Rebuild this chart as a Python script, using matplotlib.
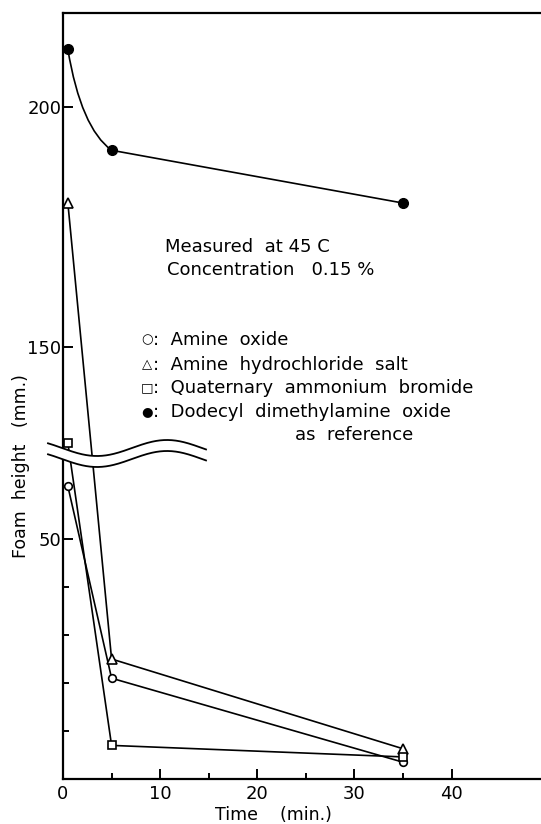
import numpy as np
import matplotlib
matplotlib.use("Agg")
from matplotlib import pyplot as plt
from matplotlib.path import Path
from matplotlib.patches import PathPatch, Polygon

# foam height (mm), upper series sit above the axis break
time = [0.5, 5, 35]
amine_oxide = [61, 21, 3.5]
amine_hcl = [180, 25, 6.3]
quat_bromide = [130, 7, 4.6]
dodecyl = [212, 191, 180]

y_ticks = [50, 150, 200]
y_minor = [10, 20, 30, 40]
x_ticks = [0, 10, 20, 30, 40]
x_minor = [5, 15, 25, 35]

legend_rows = [
    ("\u25CB", "Amine  oxide"),
    ("\u25B3", "Amine  hydrochloride  salt"),
    ("\u25A1", "Quaternary  ammonium  bromide"),
    ("\u25CF", "Dodecyl  dimethylamine  oxide"),
]

W, H = 541, 824
BREAK_AT = 100   # values above this are shifted down
SHIFT = 60


def fwd(y):
    y = np.asarray(y, dtype=float)
    return np.where(y < BREAK_AT, y, y - SHIFT)


def inv(y):
    y = np.asarray(y, dtype=float)
    return np.where(y < BREAK_AT - SHIFT + 30, y, y + SHIFT)


def px(x, y):
    return x / W, 1 - y / H


plt.rcParams["font.family"] = "DejaVu Sans"
fig = plt.figure(figsize=(W / 100, H / 100), dpi=100)
ax = fig.add_axes([63 / W, (H - 779) / H, (W - 63) / W, 766 / H])

ax.set_yscale("function", functions=(fwd, inv))
ax.set_xlim(0, 49.2)
ax.set_ylim(0, 219.6)

lw = 1.2
mk = dict(markeredgecolor="black", markeredgewidth=1.2, color="black", lw=lw)
ax.plot(time, amine_oxide, marker="o", markersize=5.5, markerfacecolor="white", **mk)
ax.plot(time, amine_hcl, marker="^", markersize=7, markerfacecolor="white", **mk)
ax.plot(time, quat_bromide, marker="s", markersize=5.5, markerfacecolor="white", **mk)

# reference series: curved first segment, straight second
x0, x1 = time[0], time[1]
y0, y1 = dodecyl[0], dodecyl[1]
ctrl = (x0 + 0.3 * (x1 - x0), y1 + 0.22 * (y0 - y1))
curve = Path([(x0, y0), ctrl, (x1, y1)], [Path.MOVETO, Path.CURVE3, Path.CURVE3])
ax.add_patch(PathPatch(curve, facecolor="none", edgecolor="black", lw=lw))
ax.plot(time[1:], dodecyl[1:], color="black", lw=lw)
ax.plot(time, dodecyl, linestyle="none", marker="o", markersize=7,
        markerfacecolor="black", markeredgecolor="black")

# axes styling
ax.spines["right"].set_visible(False)
for side in ["left", "bottom", "top"]:
    ax.spines[side].set_linewidth(1.6)

ax.set_yticks(y_ticks)
ax.set_yticklabels([str(v) for v in y_ticks])
ax.set_yticks(y_minor, minor=True)
ax.set_xticks(x_ticks)
ax.set_xticklabels([str(v) for v in x_ticks])
ax.set_xticks(x_minor, minor=True)
ax.tick_params(which="both", direction="in", width=1.4, labelsize=13, top=False, right=False)
ax.tick_params(which="major", length=7)
ax.tick_params(which="minor", length=4)
ax.tick_params(axis="y", pad=1)
ax.tick_params(axis="x", pad=4)

ax.set_xlabel("Time    (min.)", fontsize=12.5)
ax.xaxis.set_label_coords(0.44, -0.035)
ax.set_ylabel("Foam  height   (mm.)", fontsize=12.5)
ax.yaxis.set_label_coords(-0.068, 0.409)

# axis break: two wavy lines with white between them
xs = np.linspace(48, 206, 200)
yu = 448 + 8 * np.sin(2 * np.pi * (xs - 62) / 140)
yl = yu + 11
upper = np.array([px(a, b) for a, b in zip(xs, yu)])
lower = np.array([px(a, b) for a, b in zip(xs, yl)])
band = np.vstack([upper, lower[::-1]])
fig.patches.append(Polygon(band, closed=True, facecolor="white", edgecolor="none",
                           transform=fig.transFigure, zorder=10))
for wave in (upper, lower):
    fig.lines.append(plt.Line2D(wave[:, 0], wave[:, 1], color="black", lw=1.3,
                                transform=fig.transFigure, zorder=11))

# annotations
fs = 13
fig.text(*px(165, 247), "Measured  at 45 C", fontsize=fs, va="center")
fig.text(*px(167, 270), "Concentration   0.15 %", fontsize=fs, va="center")

row_y = [340, 365, 388, 412]
for (sym, label), yy in zip(legend_rows, row_y):
    fig.text(*px(147, yy), sym, fontsize=9.5, ha="center", va="center")
    fig.text(*px(153, yy), ":  " + label, fontsize=fs, va="center")
fig.text(*px(295, 435), "as  reference", fontsize=fs, va="center")

fig.savefig("out.png", dpi=100)
